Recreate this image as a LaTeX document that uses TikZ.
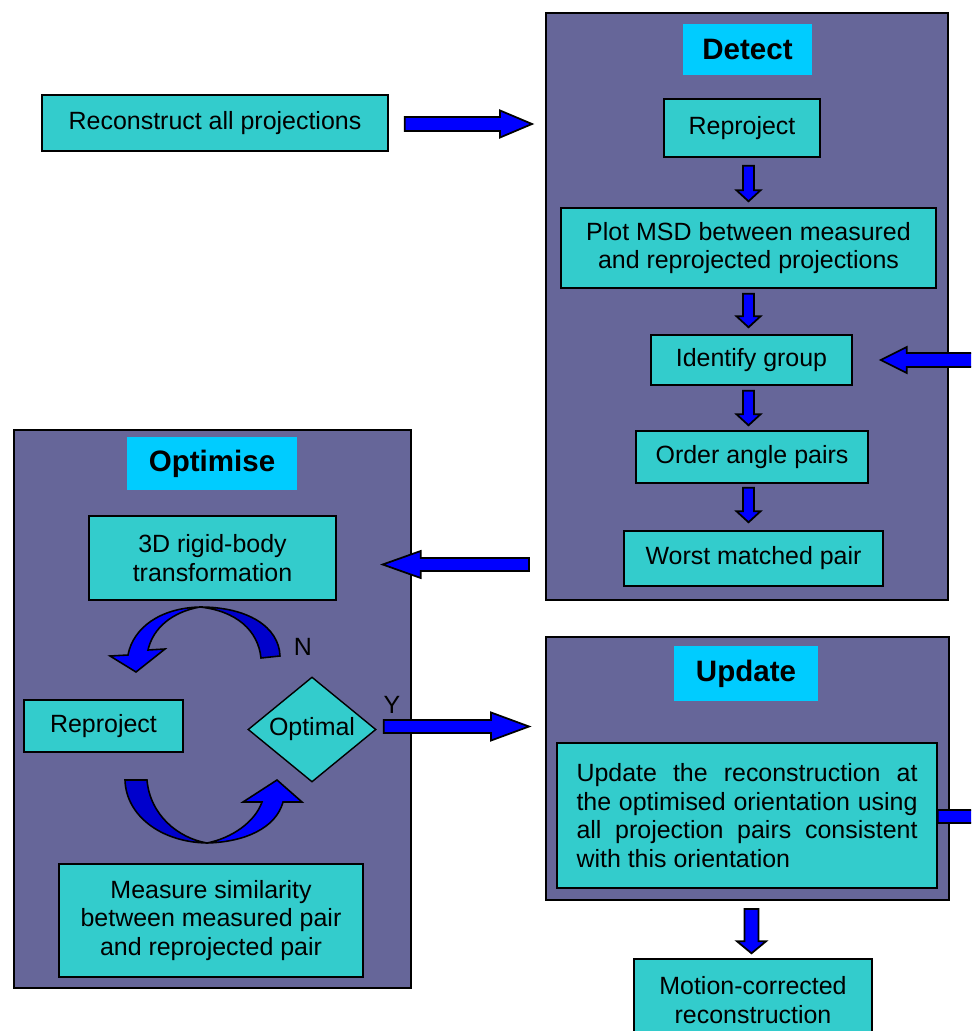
\documentclass[tikz,border=0pt]{standalone}
\usepackage{fontspec}
\setmainfont{Liberation Sans}
\usepackage{tikz}
\usetikzlibrary{shapes,arrows.meta,positioning}
\usetikzlibrary{calc}
\definecolor{panelpurple}{HTML}{666699}
\definecolor{boxcyan}{HTML}{33CCCC}
\definecolor{titlecyan}{HTML}{00CCFF}
\definecolor{arrowblue}{HTML}{0000FF}
\definecolor{arrowdark}{HTML}{0000CC}
% block arrow: from, to, shaft half width, head half width, head length
\newcommand{\blockarrow}[5]{%
  \coordinate (ahead) at ($(#2)!#5!(#1)$);
  \path[BlockArrow] ($(#1)!#3!-90:(#2)$) -- ($(ahead)!#3!-90:(#2)$)
    -- ($(ahead)!#4!-90:(#2)$) -- (#2) -- ($(ahead)!#4!90:(#2)$)
    -- ($(ahead)!#3!90:(#2)$) -- ($(#1)!#3!90:(#2)$) -- cycle;
}

\begin{document}
\begin{tikzpicture}
  [
    x=0.2mm, y=-0.2mm,
    Panel/.style={rectangle, draw=black, fill=panelpurple, line width=1.1pt, inner sep=0},
    Title/.style={rectangle, fill=titlecyan, inner sep=0, font=\fontsize{16.8}{20}\selectfont\bfseries},
    Box/.style={rectangle, draw=black, fill=boxcyan, line width=0.8pt, inner sep=0, align=center, font=\fontsize{14.2}{16.4}\selectfont},
    Decision/.style={diamond, draw=black, fill=boxcyan, line width=0.8pt, inner sep=0, aspect=1.22, font=\fontsize{14.2}{16.4}\selectfont},
    Label/.style={inner sep=0, font=\fontsize{14.2}{16.4}\selectfont},
    BlockArrow/.style={draw=black, fill=arrowblue, line width=1pt, line join=miter},
    Bend/.style={draw=black, line width=0.9pt, line join=miter}
  ]
  \useasboundingbox (0, 0) rectangle (971, 1031);
  \clip (0, 0) rectangle (971, 1031);
  % Panels
  \node[Panel, minimum width=80.4mm, minimum height=117.4mm] (detect) at(747, 306.5) {};
  \node[Panel, minimum width=79.4mm, minimum height=111.6mm] (optimise) at(212.5, 709) {};
  \node[Panel, minimum width=80.6mm, minimum height=52.6mm] (update) at(747.5, 768.5) {};
  \node[Title, minimum width=25.8mm, minimum height=10.2mm] (detecttitle) at(747.5, 49.5) {Detect};
  \node[Title, minimum width=34mm, minimum height=10.6mm] (optimisetitle) at(212, 463.5) {Optimise};
  \node[Title, minimum width=28.8mm, minimum height=11mm] (updatetitle) at(746, 673.5) {Update};
  % Nodes
  \node[Box, minimum width=69.2mm, minimum height=11.2mm] (recon) at(215, 123) {Reconstruct all projections};
  \node[Box, minimum width=31.2mm, minimum height=11.6mm] (reproja) at(742, 128) {Reproject};
  \node[Box, minimum width=75mm, minimum height=16mm] (plotmsd) at(748.5, 248) {Plot MSD between measured\\and reprojected projections};
  \node[Box, minimum width=40.2mm, minimum height=10mm] (identify) at(751.5, 360) {Identify group};
  \node[Box, minimum width=46.4mm, minimum height=10.4mm] (order) at(752, 457) {Order angle pairs};
  \node[Box, minimum width=51.8mm, minimum height=11mm] (worst) at(753.5, 558.5) {Worst matched pair};
  \node[Box, minimum width=49.4mm, minimum height=16.8mm] (rigid) at(212.5, 558) {3D rigid-body\\transformation};
  \node[Box, minimum width=31.8mm, minimum height=10.4mm] (reprojb) at(103.5, 726) {Reproject};
  \node[Decision, minimum width=25.6mm, minimum height=21mm] (optimal) at(312, 729.5) {Optimal};
  \node[Box, minimum width=60.8mm, minimum height=22.6mm] (measure) at(211, 920.5) {Measure similarity\\between measured pair\\and reprojected pair};
  \node[Box, minimum width=76mm, minimum height=29mm, text width=68.2mm, align=justify] (updatetext) at(747, 815.5)
    {\hyphenpenalty=10000 Update the reconstruction at\linebreak the optimised orientation using\linebreak all projection pairs consistent\linebreak with this orientation};
  \node[Box, minimum width=47.6mm, minimum height=16.4mm] (motion) at(753, 1000) {Motion-corrected\\reconstruction};
  \node[Label] (nlabel) at(303, 647) {N};
  \node[Label] (ylabel) at(392, 705) {Y};
  % Loop arrows
  \path[Bend, fill=arrowdark] (280, 656) .. controls (279, 627) and (248, 607) .. (200, 607)
    .. controls (236, 611) and (258, 630) .. (261, 658) -- cycle;
  \path[Bend, fill=arrowblue] (200, 607) .. controls (160, 608) and (133, 628) .. (128, 655)
    -- (110, 656) -- (136, 672) -- (165, 649) -- (148, 650)
    .. controls (153, 628) and (172, 612) .. (200, 607) -- cycle;
  \path[Bend, fill=arrowdark] (125, 780) -- (147, 780) .. controls (150, 815) and (178, 838) .. (207, 843)
    .. controls (160, 842) and (126, 815) .. (125, 780) -- cycle;
  \path[Bend, fill=arrowblue] (207, 843) .. controls (245, 842) and (276, 828) .. (283, 802)
    -- (302, 802) -- (277, 780) -- (243, 802) -- (262, 802)
    .. controls (255, 822) and (232, 838) .. (207, 843) -- cycle;
  % Lines
  \coordinate (reconout) at ($(recon.east)+(16, 1)$);
  \coordinate (detectin) at ($(reconout -| detect.west)+(-13, 0)$);
  \blockarrow{reconout}{detectin}{1.4mm}{2.7mm}{6.4mm}
  \foreach \a/\b/\s/\e in {reproja/plotmsd/8/6, plotmsd/identify/5/7, identify/order/5/5, order/worst/4/8}
  {
    \coordinate (downs) at ($(plotmsd.north |- \a.south)+(0, \s)$);
    \coordinate (downe) at ($(plotmsd.north |- \b.north)+(0, -\e)$);
    \blockarrow{downs}{downe}{1.1mm}{2.4mm}{2.2mm}
  }
  \coordinate (loopin) at ($(identify.east)+(28, 0)$);
  \coordinate (loopfrom) at ($(loopin)+(110, 0)$);
  \blockarrow{loopfrom}{loopin}{1.4mm}{2.6mm}{5.2mm}
  \coordinate (detectout) at ($(detect.west |- worst)+(-16, 6)$);
  \coordinate (optimisein) at ($(detectout -| rigid.east)+(46, 0)$);
  \blockarrow{detectout}{optimisein}{1.3mm}{2.7mm}{7.6mm}
  \coordinate (optimalout) at ($(optimal.east)+(7, -3)$);
  \coordinate (updatein) at ($(optimalout -| update.west)+(-16, 0)$);
  \blockarrow{optimalout}{updatein}{1.3mm}{2.8mm}{7.6mm}
  \coordinate (updateout) at ($(updatetext.east)+(0, 1)$);
  \coordinate (updateexit) at ($(updateout)+(90, 0)$);
  \blockarrow{updateout}{updateexit}{1.3mm}{2.8mm}{4mm}
  \coordinate (updatedown) at ($(update.south)+(4, 8)$);
  \coordinate (motionin) at ($(updatedown |- motion.north)+(0, -5)$);
  \blockarrow{updatedown}{motionin}{1.4mm}{2.9mm}{2.4mm}
\end{tikzpicture}
\end{document}
